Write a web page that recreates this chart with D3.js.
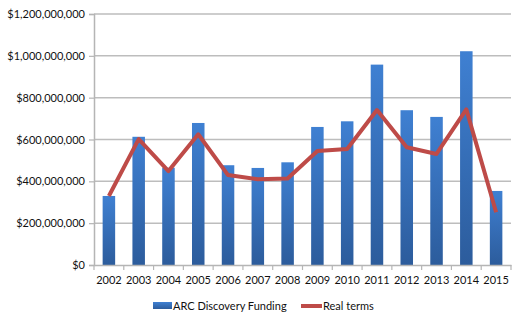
<!DOCTYPE html>
<html><head><meta charset="utf-8">
<script src="https://cdn.jsdelivr.net/npm/d3@7/dist/d3.min.js"></script>
<style>html,body{margin:0;padding:0;background:#fff;}svg{display:block;}</style>
</head><body>
<svg id="c" width="524" height="325"></svg>
<script>
const years = ["2002","2003","2004","2005","2006","2007","2008","2009","2010","2011","2012","2013","2014","2015"];
const funding = [330e6,613e6,465e6,679e6,477e6,464e6,491e6,660e6,687e6,958e6,740e6,708e6,1022e6,354e6];
const realTerms = [330e6,602e6,449e6,625e6,430e6,410e6,414e6,545e6,555e6,741e6,563e6,531e6,744e6,252e6];
const yTicks = [0,200e6,400e6,600e6,800e6,1000e6,1200e6];
const seriesNames = ["ARC Discovery Funding","Real terms"];

const svg = d3.select("#c");
const font = "Lato, 'Open Sans', sans-serif";
const L = 94, R = 511, T = 14, B = 265;
const x = d3.scaleBand().domain(years).range([L, R]).paddingInner(0.58).paddingOuter(0.29);
const xb = d3.scaleBand().domain(years).range([L, R]);
const y = d3.scaleLinear().domain([0, 1200e6]).range([B, T]);

const defs = svg.append("defs");
const g = defs.append("linearGradient").attr("id","bg").attr("x1",0).attr("y1",0).attr("x2",0).attr("y2",1);
g.append("stop").attr("offset","0%").attr("stop-color","#3f80d2");
g.append("stop").attr("offset","100%").attr("stop-color","#2c5c9c");

// gridlines
svg.append("g").selectAll("line").data(yTicks.filter(d=>d>0)).join("line")
  .attr("x1", L).attr("x2", R).attr("y1", d=>y(d)).attr("y2", d=>y(d))
  .attr("stroke","#bdbdbd").attr("stroke-width",1.5);

// y axis
const ya = svg.append("g").attr("transform",`translate(${L},0)`)
  .call(d3.axisLeft(y).tickValues(yTicks).tickSize(5).tickPadding(4).tickFormat(d=>"$"+d3.format(",")(d)));
ya.select(".domain").attr("stroke","#b5b5b5").attr("stroke-width",1.5);
ya.selectAll(".tick line").attr("stroke","#b5b5b5").attr("stroke-width",1.2);
ya.selectAll("text").attr("font-family",font).attr("font-size",11).attr("fill","#111");

// bars
svg.append("g").selectAll("rect").data(years).join("rect")
  .attr("x", d=>x(d)).attr("width", x.bandwidth())
  .attr("y", (d,i)=>y(funding[i])).attr("height",(d,i)=>B - y(funding[i]))
  .attr("fill","url(#bg)");

// x axis
const xa = svg.append("g").attr("transform",`translate(0,${B})`)
  .call(d3.axisBottom(xb).tickSize(0).tickPadding(11));
xa.select(".domain").attr("stroke","#b5b5b5").attr("stroke-width",1.5);
xa.selectAll("text").attr("font-family",font).attr("font-size",11).attr("fill","#111");
svg.append("g").selectAll("line").data(d3.range(years.length+1)).join("line")
  .attr("x1", i=>L + i*xb.step()).attr("x2", i=>L + i*xb.step())
  .attr("y1", B).attr("y2", B+5).attr("stroke","#b5b5b5").attr("stroke-width",1.2);

// line
const line = d3.line().x((d,i)=>xb(years[i]) + xb.bandwidth()/2).y(d=>y(d));
svg.append("path").datum(realTerms).attr("d", line)
  .attr("fill","none").attr("stroke","#be4b48").attr("stroke-width",4).attr("stroke-linejoin","round");

// legend
const lg = svg.append("g").attr("font-family",font).attr("font-size",11).attr("fill","#111");
lg.append("rect").attr("x",153).attr("y",302).attr("width",19).attr("height",7).attr("fill","url(#bg)");
lg.append("text").attr("x",173).attr("y",310).text(seriesNames[0]);
lg.append("line").attr("x1",301).attr("x2",322).attr("y1",306).attr("y2",306).attr("stroke","#be4b48").attr("stroke-width",4);
lg.append("text").attr("x",323).attr("y",310).text(seriesNames[1]);
</script>
</body></html>
